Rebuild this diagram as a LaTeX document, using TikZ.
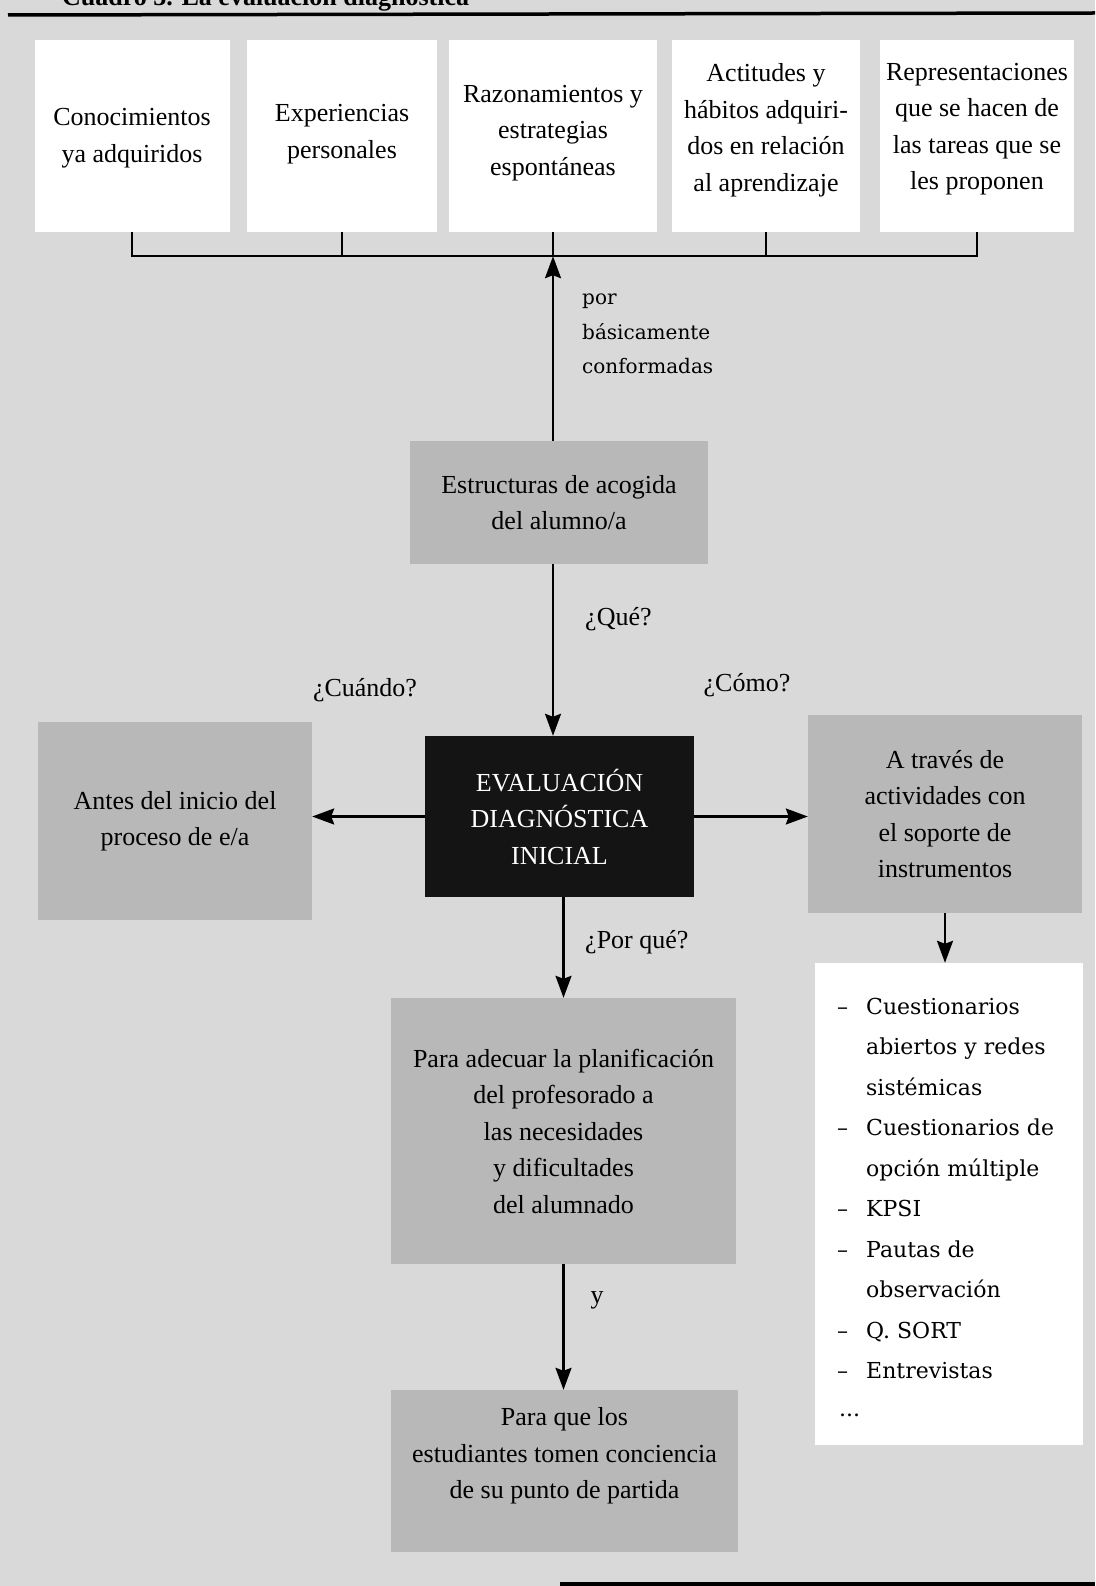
\documentclass[tikz,border=0pt]{standalone}
\usepackage{fontspec}
\setmainfont{Liberation Serif}
\newfontfamily\listfont{DejaVu Serif}
\usetikzlibrary{arrows.meta}
\definecolor{bgc}{gray}{0.85}
\definecolor{boxc}{gray}{0.72}
\tikzset{
  whitebox/.style={fill=white, draw=none, inner sep=0pt},
  graybox/.style={fill=boxc, draw=none, inner sep=0pt},
  darkbox/.style={fill=black!92, draw=none, inner sep=0pt},
  txt/.style={align=center, font=\fontsize{26pt}{36.5pt}\selectfont, inner sep=0pt},
  lbl/.style={font=\fontsize{26pt}{31pt}\selectfont, inner sep=0pt},
  lstitem/.style={font=\listfont\fontsize{22pt}{26pt}\selectfont, inner sep=0pt, anchor=base west},
  conn/.style={line width=2.2pt},
  arr/.style={conn, -{Stealth[length=22pt,width=16pt,inset=3pt]}},
  hrule/.style={line width=3.5pt},
}
\begin{document}
\begin{tikzpicture}[x=1pt,y=-1pt]
\useasboundingbox (0,0) rectangle (1095,1586);
\fill[bgc] (0,0) rectangle (1095,1586);

% title (cut off at the top of the page, as in the original)
\node[anchor=base west, font=\bfseries\fontsize{26pt}{30pt}\selectfont, inner sep=0pt] (title) at (62,6) {Cuadro 3. La evaluación diagnóstica};
\draw[hrule] (8,15) -- (1095,13);

% top white boxes
\node[whitebox, minimum width=195pt, minimum height=192pt] (b1) at (132,136) {};
\node[whitebox, minimum width=190pt, minimum height=192pt] (b2) at (342,136) {};
\node[whitebox, minimum width=208pt, minimum height=192pt] (b3) at (553,136) {};
\node[whitebox, minimum width=188pt, minimum height=192pt] (b4) at (766,136) {};
\node[whitebox, minimum width=194pt, minimum height=192pt] (b5) at (977,136) {};
\node[txt] (t1) at (132,138) {Conocimientos\\ya adquiridos};
\node[txt] (t2) at (342,134) {Experiencias\\personales};
\node[txt] (t3) at (553,133) {Razonamientos y\\estrategias\\espontáneas};
\node[txt] (t4) at (766,130) {Actitudes y\\hábitos adquiri-\\dos en relación\\al aprendizaje};
\node[txt] (t5) at (977,129) {Representaciones\\que se hacen de\\las tareas que se\\les proponen};

% bracket
\path (b1.south) ++(0,24) coordinate (k1);
\path (b2.south) ++(0,24) coordinate (k2);
\path (b3.south) ++(0,24) coordinate (k3);
\path (b4.south) ++(0,24) coordinate (k4);
\path (b5.south) ++(0,24) coordinate (k5);
\draw[conn] (b1.south) -- (k1) -- (k5) -- (b5.south);
\draw[conn] (b2.south) -- (k2);
\draw[conn] (b3.south) -- (k3);
\draw[conn] (b4.south) -- (k4);

% Estructuras
\node[graybox, txt, minimum width=298pt, minimum height=123pt] (est) at (559,502.5) {Estructuras de acogida\\del alumno/a};
\draw[arr] (est.north -| k3) -- (k3);
\node[font=\listfont\fontsize{20pt}{34.5pt}\selectfont, align=left, anchor=west, inner sep=0pt] (por) at (582,334) {por\\básicamente\\conformadas};

% Evaluacion
\node[darkbox, txt, text=white, minimum width=269pt, minimum height=161pt] (eva) at (559.5,816.5) {EVALUACIÓN\\DIAGNÓSTICA\\INICIAL};
\draw[arr] (est.south -| k3) -- (eva.north -| k3);
\node[lbl, anchor=west] (qque) at (585,619) {¿Qué?};
\node[lbl] (qcuando) at (365,690) {¿Cuándo?};
\node[lbl] (qcomo) at (747,685) {¿Cómo?};

% left / right
\node[graybox, txt, minimum width=274pt, minimum height=198pt] (antes) at (175,821) {Antes del inicio del\\proceso de e/a};
\node[graybox, txt, minimum width=274pt, minimum height=198pt] (through) at (945,814) {A través de\\actividades con\\el soporte de\\instrumentos};
\draw[arr] (eva.west) -- (eva.west -| antes.east);
\draw[arr] (eva.east) -- (eva.east -| through.west);

% list
\node[whitebox, minimum width=268pt, minimum height=482pt] (lst) at (949,1204) {};
\draw[arr] (through.south) -- (through.south |- lst.north);
\node[lstitem] (d1) at (837,1014) {–};
\node[lstitem] (l1) at (866,1014) {Cuestionarios};
\node[lstitem] (l2) at (866,1054.5) {abiertos y redes};
\node[lstitem] (l3) at (866,1095) {sistémicas};
\node[lstitem] (d4) at (837,1135.5) {–};
\node[lstitem] (l4) at (866,1135.5) {Cuestionarios de};
\node[lstitem] (l5) at (866,1176) {opción múltiple};
\node[lstitem] (d6) at (837,1216.5) {–};
\node[lstitem] (l6) at (866,1216.5) {KPSI};
\node[lstitem] (d7) at (837,1257) {–};
\node[lstitem] (l7) at (866,1257) {Pautas de};
\node[lstitem] (l8) at (866,1297.5) {observación};
\node[lstitem] (d9) at (837,1338) {–};
\node[lstitem] (l9) at (866,1338) {Q. SORT};
\node[lstitem] (d10) at (837,1378.5) {–};
\node[lstitem] (l10) at (866,1378.5) {Entrevistas};
\node[lstitem] (l11) at (839,1416) {...};

% bottom chain
\node[graybox, txt, minimum width=345pt, minimum height=266pt] (pa) at (563.5,1131) {Para adecuar la planificación\\del profesorado a\\las necesidades\\y dificultades\\del alumnado};
\draw[arr] (eva.south -| pa.north) -- (pa.north);
\node[lbl, anchor=west] (qporque) at (585,942) {¿Por qué?};
\node[graybox, minimum width=347pt, minimum height=162pt] (pq) at (564.5,1471) {};
\node[txt] (pqt) at (564.5,1456) {Para que los\\estudiantes tomen conciencia\\de su punto de partida};
\draw[arr] (pa.south) -- (pa.south |- pq.north);
\node[lbl] (ly) at (597,1300) {y};

\draw[hrule] (560,1584) -- (1095,1584);
\end{tikzpicture}
\end{document}
